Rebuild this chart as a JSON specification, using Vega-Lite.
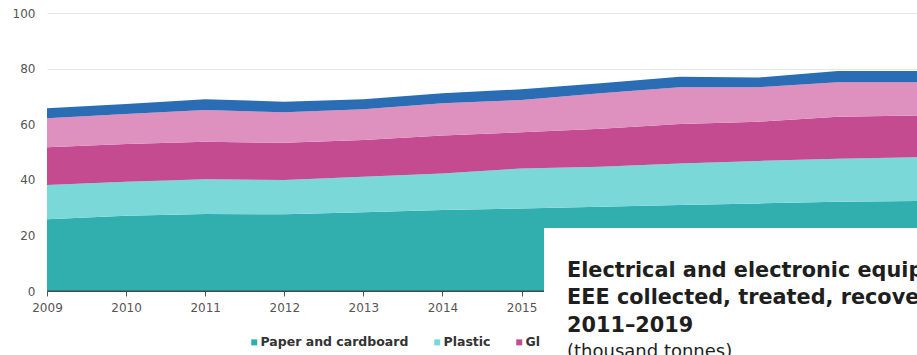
{
  "$schema": "https://vega.github.io/schema/vega-lite/v6.json",
  "autosize": {"type": "none"},
  "width": 870,
  "height": 278,
  "padding": {"left": 47, "top": 13, "right": 0, "bottom": 64},
  "background": "white",
  "config": {"view": {"stroke": null}},
  "data": {
    "values": [
      {"year": 2009, "material": "Paper and cardboard", "value": 25.8},
      {"year": 2009, "material": "Plastic", "value": 12.3},
      {"year": 2009, "material": "Glass", "value": 13.6},
      {"year": 2009, "material": "Wood", "value": 10.4},
      {"year": 2009, "material": "Metal", "value": 3.6},
      {"year": 2010, "material": "Paper and cardboard", "value": 27.1},
      {"year": 2010, "material": "Plastic", "value": 12.2},
      {"year": 2010, "material": "Glass", "value": 13.6},
      {"year": 2010, "material": "Wood", "value": 10.8},
      {"year": 2010, "material": "Metal", "value": 3.6},
      {"year": 2011, "material": "Paper and cardboard", "value": 27.7},
      {"year": 2011, "material": "Plastic", "value": 12.5},
      {"year": 2011, "material": "Glass", "value": 13.5},
      {"year": 2011, "material": "Wood", "value": 11.4},
      {"year": 2011, "material": "Metal", "value": 3.9},
      {"year": 2012, "material": "Paper and cardboard", "value": 27.6},
      {"year": 2012, "material": "Plastic", "value": 12.3},
      {"year": 2012, "material": "Glass", "value": 13.4},
      {"year": 2012, "material": "Wood", "value": 11.0},
      {"year": 2012, "material": "Metal", "value": 3.8},
      {"year": 2013, "material": "Paper and cardboard", "value": 28.3},
      {"year": 2013, "material": "Plastic", "value": 12.8},
      {"year": 2013, "material": "Glass", "value": 13.2},
      {"year": 2013, "material": "Wood", "value": 11.1},
      {"year": 2013, "material": "Metal", "value": 3.6},
      {"year": 2014, "material": "Paper and cardboard", "value": 29.1},
      {"year": 2014, "material": "Plastic", "value": 13.2},
      {"year": 2014, "material": "Glass", "value": 13.6},
      {"year": 2014, "material": "Wood", "value": 11.6},
      {"year": 2014, "material": "Metal", "value": 3.6},
      {"year": 2015, "material": "Paper and cardboard", "value": 29.7},
      {"year": 2015, "material": "Plastic", "value": 14.4},
      {"year": 2015, "material": "Glass", "value": 13.0},
      {"year": 2015, "material": "Wood", "value": 11.6},
      {"year": 2015, "material": "Metal", "value": 3.9},
      {"year": 2016, "material": "Paper and cardboard", "value": 30.3},
      {"year": 2016, "material": "Plastic", "value": 14.4},
      {"year": 2016, "material": "Glass", "value": 13.7},
      {"year": 2016, "material": "Wood", "value": 12.7},
      {"year": 2016, "material": "Metal", "value": 3.6},
      {"year": 2017, "material": "Paper and cardboard", "value": 30.9},
      {"year": 2017, "material": "Plastic", "value": 15.0},
      {"year": 2017, "material": "Glass", "value": 14.2},
      {"year": 2017, "material": "Wood", "value": 13.2},
      {"year": 2017, "material": "Metal", "value": 3.8},
      {"year": 2018, "material": "Paper and cardboard", "value": 31.5},
      {"year": 2018, "material": "Plastic", "value": 15.3},
      {"year": 2018, "material": "Glass", "value": 14.1},
      {"year": 2018, "material": "Wood", "value": 12.4},
      {"year": 2018, "material": "Metal", "value": 3.5},
      {"year": 2019, "material": "Paper and cardboard", "value": 32.1},
      {"year": 2019, "material": "Plastic", "value": 15.5},
      {"year": 2019, "material": "Glass", "value": 15.1},
      {"year": 2019, "material": "Wood", "value": 12.4},
      {"year": 2019, "material": "Metal", "value": 4.0},
      {"year": 2020, "material": "Paper and cardboard", "value": 32.4},
      {"year": 2020, "material": "Plastic", "value": 15.7},
      {"year": 2020, "material": "Glass", "value": 15.0},
      {"year": 2020, "material": "Wood", "value": 12.0},
      {"year": 2020, "material": "Metal", "value": 4.0}
    ]
  },
  "layer": [
    {
      "transform": [
        {"calculate": "indexof(['Paper and cardboard', 'Plastic', 'Glass', 'Wood', 'Metal'], datum.material)", "as": "stackRank"}
      ],
      "mark": {"type": "area"},
      "encoding": {
        "x": {
          "field": "year", "type": "quantitative", "title": null,
          "scale": {"domain": [2009, 2020], "nice": false, "zero": false},
          "axis": {
            "values": [2009, 2010, 2011, 2012, 2013, 2014, 2015, 2016, 2017, 2018, 2019, 2020],
            "format": "d", "grid": false,
            "domainColor": "#3a4a4a", "domainWidth": 1.2, "tickColor": "#555555", "tickSize": 5,
            "labelPadding": 6, "labelFont": "DejaVu Sans", "labelFontSize": 12,
            "labelColor": "#555555", "labelFlush": false, "labelOverlap": false
          }
        },
        "y": {
          "field": "value", "type": "quantitative", "stack": "zero", "title": null,
          "scale": {"domain": [0, 100], "nice": false},
          "axis": {
            "values": [0, 20, 40, 60, 80, 100], "domain": false, "ticks": false, "tickSize": 0,
            "labelPadding": 12, "gridColor": "#e6e6e6", "gridWidth": 1,
            "labelFont": "DejaVu Sans", "labelFontSize": 12, "labelColor": "#555555"
          }
        },
        "order": {"field": "stackRank", "type": "quantitative", "sort": "ascending"},
        "color": {
          "field": "material", "type": "nominal",
          "sort": ["Paper and cardboard", "Plastic", "Glass", "Wood", "Metal"],
          "scale": {
            "domain": ["Paper and cardboard", "Plastic", "Glass", "Wood", "Metal"],
            "range": ["#31aeae", "#7ad9d8", "#c54b91", "#de90bf", "#2a6db5"]
          },
          "legend": {
            "title": null, "orient": "none", "legendX": 201, "legendY": 323,
            "values": ["Paper and cardboard", "Plastic", "Glass"],
            "direction": "horizontal", "symbolType": "square", "symbolSize": 36,
            "symbolStrokeWidth": 0, "padding": 0, "columnPadding": 22, "labelOffset": 0,
            "labelFont": "DejaVu Sans", "labelFontWeight": "bold", "labelFontSize": 12.5,
            "labelColor": "#333333", "labelLimit": 300,
            "encode": {
              "labels": {
                "update": {
                  "limit": {"signal": "datum.label === 'Glass' ? 21 : 300"},
                  "ellipsis": {"value": "\u200b"}
                }
              }
            }
          }
        }
      }
    },
    {
      "data": {"values": [{}]},
      "mark": {"type": "rule", "color": "#3a4a4a", "strokeWidth": 1.2},
      "encoding": {
        "x": {"datum": 2009, "title": null},
        "x2": {"datum": 2020},
        "y": {"datum": 0, "title": null}
      }
    },
    {
      "data": {"values": [{}]},
      "mark": {"type": "rect", "color": "white"},
      "encoding": {
        "x": {"datum": 2015.284, "title": null},
        "x2": {"datum": 2021},
        "y": {"datum": 22.66, "title": null},
        "y2": {"datum": -25}
      }
    },
    {
      "data": {"values": [{}]},
      "mark": {
        "type": "text",
        "text": ["Electrical and electronic equipment (EEE) put on the market and waste", "EEE collected, treated, recovered, recycled and prepared for reuse, EU,", "2011–2019"],
        "font": "DejaVu Sans", "fontWeight": "bold", "fontSize": 20.8, "lineHeight": 27.5,
        "align": "left", "baseline": "alphabetic", "color": "#1e1e1e"
      },
      "encoding": {
        "x": {"datum": 2015.575, "title": null},
        "y": {"datum": 5.14, "title": null}
      }
    },
    {
      "data": {"values": [{}]},
      "mark": {
        "type": "text", "text": "(thousand tonnes)",
        "font": "DejaVu Sans", "fontSize": 18,
        "align": "left", "baseline": "alphabetic", "color": "#1e1e1e"
      },
      "encoding": {
        "x": {"datum": 2015.575, "title": null},
        "y": {"datum": -23.6, "title": null}
      }
    }
  ]
}
